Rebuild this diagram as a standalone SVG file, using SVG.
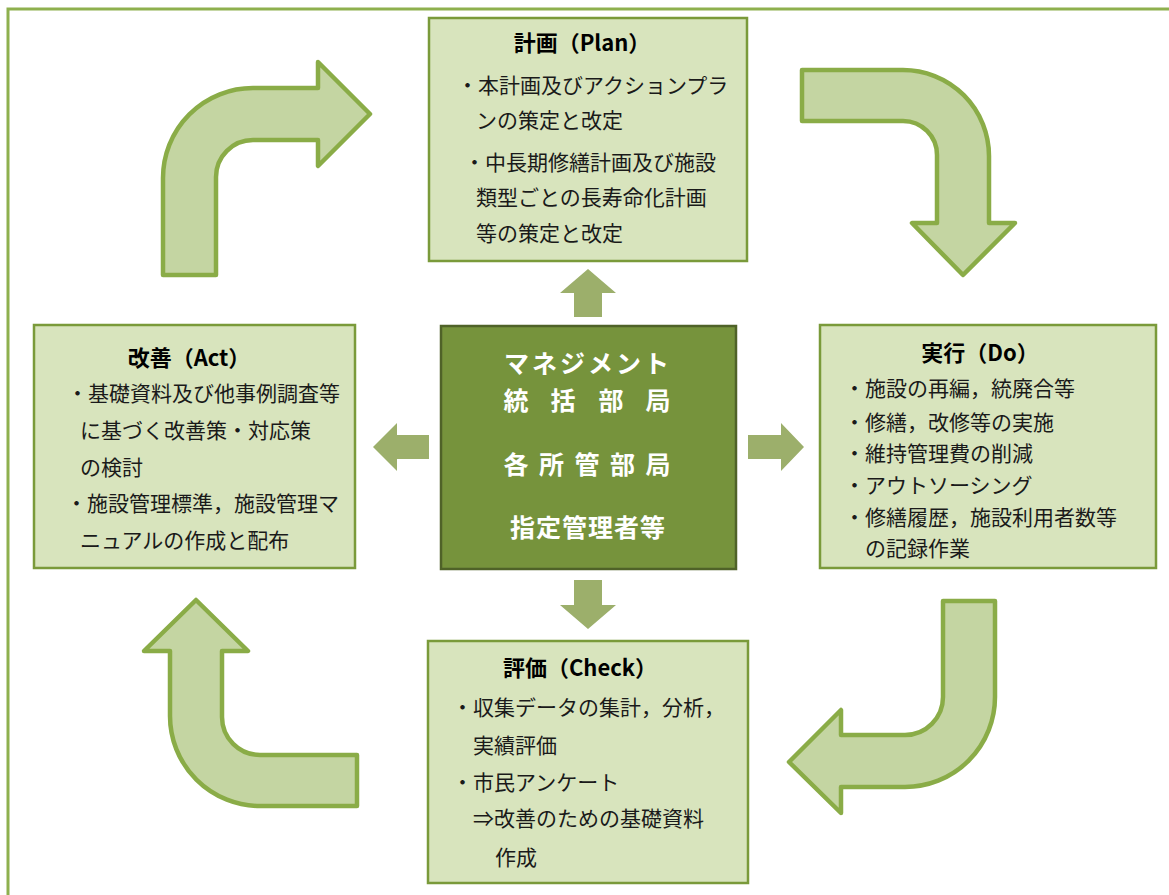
<svg xmlns="http://www.w3.org/2000/svg" width="1169" height="895" viewBox="0 0 1169 895">
<style>
.frame{fill:none;stroke:#8eb04e;stroke-width:3}
.box{fill:#d8e4bd;stroke:#7a9a3a;stroke-width:2.5}
.core{fill:#76933c;stroke:#4f6228;stroke-width:2.5}
.bend{fill:#c4d5a2;stroke:#8aac47;stroke-width:4.5;stroke-linejoin:round}
.flow{fill:#9caf6b}
.ttl{font-family:"Noto Sans CJK JP","Noto Sans",sans-serif;font-weight:bold;font-size:22px;fill:#000;text-anchor:middle}
.txt{font-family:"Noto Sans CJK JP","Noto Sans",sans-serif;font-size:21px;fill:#1a1a1a}
.ctr{font-family:"Noto Sans CJK JP","Noto Sans",sans-serif;font-weight:bold;font-size:25px;fill:#fff;text-anchor:middle}
</style>
<rect width="1169" height="895" fill="#fff"/>
<rect class="frame" x="8" y="9" width="1200" height="1000"/>

<g id="connectors">
<path class="bend" d="M163,275 L163,178 A90,90 0 0 1 253,88 L318,88 L318,62 L370,114 L318,166 L318,140 L253,140 A37,37 0 0 0 216,177 L216,275 Z"/>
<path class="bend" d="M802,70 L903,70 A86,86 0 0 1 989,156 L989,223 L1015,223 L963,275 L912,223 L937,223 L937,155 A34,34 0 0 0 903,121 L802,121 Z"/>
<path class="bend" d="M943,601 L995,601 L995,697 A90,90 0 0 1 905,787 L841,787 L841,813 L789,762 L841,710 L841,735 L905,735 A38,38 0 0 0 943,697 Z"/>
<path class="bend" d="M196,600 L248,651 L222,651 L222,717 A38,38 0 0 0 260,755 L357,755 L357,806 L260,806 A90,90 0 0 1 170,716 L170,651 L144,651 Z"/>
<path class="flow" d="M574,317 L574,293 L560,293 L588,269 L616,293 L602,293 L602,317 Z"/>
<path class="flow" d="M429,435 L397,435 L397,423 L373,447 L397,471 L397,459 L429,459 Z"/>
<path class="flow" d="M748,435 L781,435 L781,423 L804,447 L781,471 L781,459 L748,459 Z"/>
<path class="flow" d="M574,580 L602,580 L602,605 L616,605 L588,629 L560,605 L574,605 Z"/>
</g>

<g id="plan">
<rect class="box" x="429" y="18" width="318" height="243"/>
<text class="ttl" x="582" y="51">計画（Plan）</text>
<text class="txt" x="457" y="93">・本計画及びアクションプラ</text>
<text class="txt" x="476" y="128">ンの策定と改定</text>
<text class="txt" x="464" y="170">・中長期修繕計画及び施設</text>
<text class="txt" x="476" y="205">類型ごとの長寿命化計画</text>
<text class="txt" x="476" y="241">等の策定と改定</text>
</g>

<g id="center">
<rect class="core" x="441" y="326" width="295" height="243"/>
<text class="ctr" x="588" y="373" letter-spacing="3">マネジメント</text>
<text class="ctr" x="516 563 611 658" y="410">統括部局</text>
<text class="ctr" x="516 551.5 587 622.5 658" y="474">各所管部局</text>
<text class="ctr" x="588" y="537" letter-spacing="1">指定管理者等</text>
</g>

<g id="act">
<rect class="box" x="34" y="325" width="321" height="243"/>
<text class="ttl" x="189" y="366">改善（Act）</text>
<text class="txt" x="67" y="401">・基礎資料及び他事例調査等</text>
<text class="txt" x="80" y="438">に基づく改善策・対応策</text>
<text class="txt" x="80" y="475">の検討</text>
<text class="txt" x="66" y="511">・施設管理標準，施設管理マ</text>
<text class="txt" x="80" y="548">ニュアルの作成と配布</text>
</g>

<g id="do">
<rect class="box" x="820" y="325" width="336" height="243"/>
<text class="ttl" x="980" y="361">実行（Do）</text>
<text class="txt" x="844" y="396">・施設の再編，統廃合等</text>
<text class="txt" x="844" y="430">・修繕，改修等の実施</text>
<text class="txt" x="844" y="461">・維持管理費の削減</text>
<text class="txt" x="844" y="493">・アウトソーシング</text>
<text class="txt" x="844" y="525">・修繕履歴，施設利用者数等</text>
<text class="txt" x="865" y="556">の記録作業</text>
</g>

<g id="check">
<rect class="box" x="428" y="641" width="320" height="242"/>
<text class="ttl" x="580" y="676">評価（Check）</text>
<text class="txt" x="452" y="715">・収集データの集計，分析，</text>
<text class="txt" x="473" y="753">実績評価</text>
<text class="txt" x="452" y="790">・市民アンケート</text>
<text class="txt" x="473" y="826">⇒改善のための基礎資料</text>
<text class="txt" x="495" y="865">作成</text>
</g>
</svg>
